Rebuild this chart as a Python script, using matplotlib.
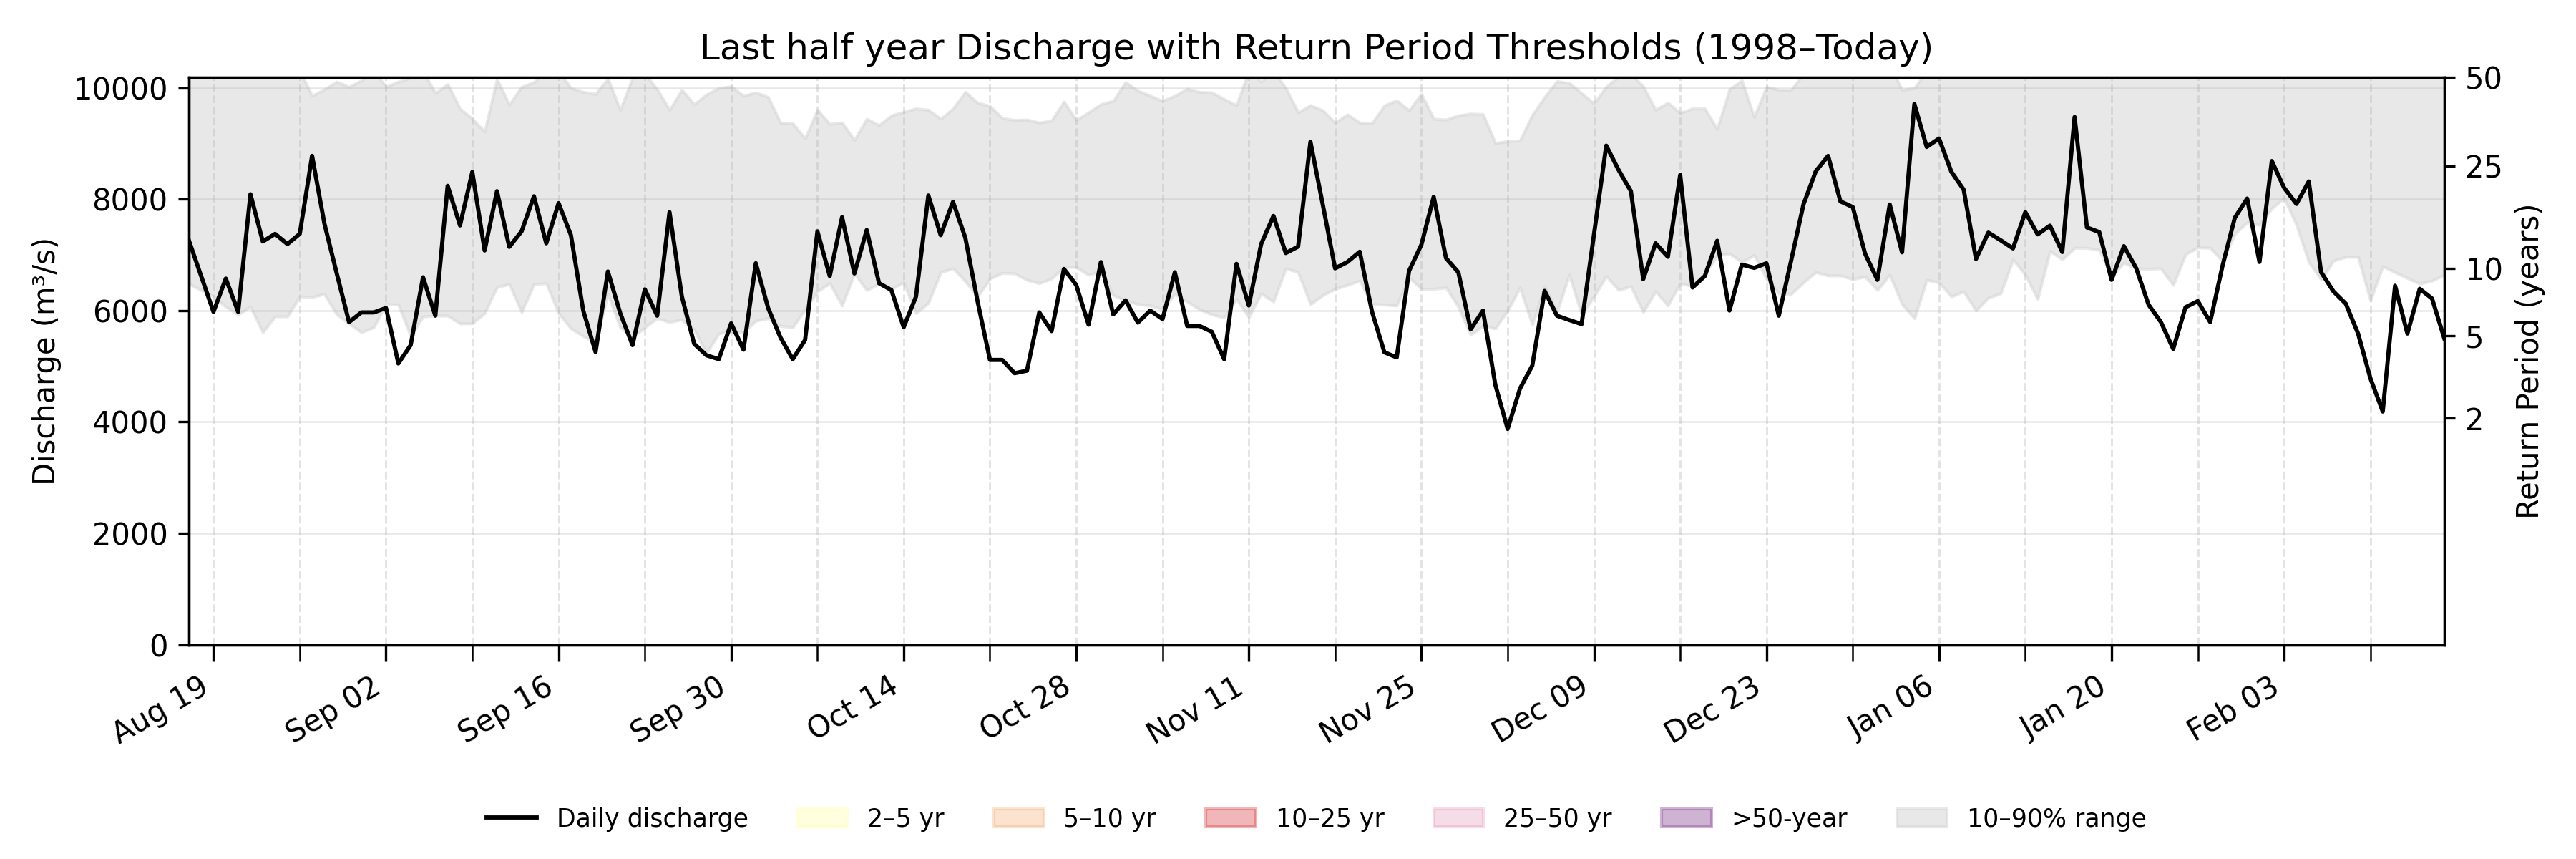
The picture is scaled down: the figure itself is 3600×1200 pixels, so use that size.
import matplotlib
matplotlib.use("Agg")
import matplotlib.pyplot as plt
import matplotlib.dates as mdates
from matplotlib.patches import Patch
import pandas as pd

# daily values, 2024-08-17 .. 2025-02-16
dates = pd.date_range("2024-08-17", "2025-02-16", freq="D")

discharge = [
    7262, 6620, 5976, 6573, 5976, 8088, 7239, 7376, 7193, 7376,
    8777, 7560, 6667, 5792, 5966, 5966, 6045, 5049, 5379, 6596,
    5907, 8239, 7528, 8488, 7078, 8143, 7142, 7422, 8051, 7207,
    7927, 7353, 5999, 5255, 6701, 5953, 5379, 6380, 5907, 7766,
    6252, 5402, 5195, 5126, 5769, 5296, 6849, 6045, 5517, 5126,
    5471, 7422, 6619, 7675, 6665, 7445, 6490, 6367, 5700, 6252,
    8065, 7353, 7950, 7307, 6160, 5113, 5113, 4874, 4920, 5966,
    5631, 6746, 6458, 5746, 6870, 5930, 6183, 5783, 5999, 5847,
    6687, 5723, 5723, 5618, 5126, 6838, 6091, 7193, 7698, 7032,
    7147, 9029, 7904, 6757, 6871, 7055, 5976, 5250, 5158, 6711,
    7180, 8042, 6940, 6687, 5663, 5999, 4667, 3873, 4598, 5011,
    6352, 5907, 5829, 5756, 7353, 8960, 8524, 8143, 6564, 7207,
    6964, 8433, 6413, 6619, 7252, 6000, 6825, 6766, 6848, 5907,
    6894, 7904, 8501, 8776, 7959, 7858, 7022, 6550, 7904, 7045,
    9708, 8937, 9088, 8491, 8170, 6926, 7399, 7262, 7115, 7766,
    7367, 7523, 7050, 9474, 7491, 7408, 6550, 7156, 6757, 6105,
    5793, 5311, 6059, 6169, 5793, 6803, 7666, 8010, 6871, 8684,
    8203, 7913, 8317, 6688, 6343, 6123, 5586, 4782, 4186, 6445,
    5586, 6389, 6215, 5494,
]

# 10th percentile of historic discharge for the same day of year
p10 = [
    6481, 6367, 6252, 6068, 5930, 6068, 5609, 5894, 5894, 6252,
    6243, 6298, 5930, 5769, 5609, 5700, 6114, 6105, 5540, 5894,
    5907, 5907, 5769, 5769, 5953, 6421, 6472, 5976, 6472, 6490,
    5953, 5678, 5540, 5425, 6298, 5700, 5517, 5700, 5861, 5792,
    5838, 5655, 5241, 5586, 5632, 5609, 5815, 5861, 5723, 5700,
    6022, 6343, 6490, 6091, 6665, 6367, 6481, 6389, 6504, 5953,
    6137, 6688, 6757, 6526, 6252, 6573, 6674, 6665, 6550, 6490,
    6573, 6780, 6780, 6642, 6711, 6275, 6183, 6114, 6091, 6022,
    6298, 6160, 6022, 5930, 5875, 6206, 5884, 6307, 6160, 6757,
    6688, 6114, 6275, 6389, 6458, 6536, 6114, 6105, 6091, 6596,
    6389, 6389, 6412, 6068, 5563, 5723, 5678, 6000, 6412, 5746,
    6435, 5976, 6642, 5930, 6252, 6619, 6367, 6435, 5976, 6343,
    6091, 6490, 6435, 6665, 6986, 7023, 6871, 6995, 6573, 6307,
    6298, 6504, 6688, 6628, 6628, 6563, 6609, 6367, 6642, 6114,
    5861, 6550, 6504, 6252, 6343, 6000, 6229, 6307, 6917, 6642,
    6206, 7068, 6917, 7124, 7124, 7087, 6620, 6858, 6757, 6748,
    6757, 6459, 7009, 7133, 7124, 6894, 7376, 7583, 7537, 7835,
    8019, 7537, 6871, 6550, 6894, 6963, 6963, 6183, 6794, 6688,
    6582, 6481, 6536, 6642,
]

# 90th percentile
p90 = [
    10400, 10400, 10400, 10400, 10400, 10400, 10400, 10400, 10400, 10300,
    9855, 9970, 10108, 10016, 10131, 10300, 10016, 10108, 10180, 10300,
    9901, 10062, 9626, 9442, 9213, 10154, 9695, 10016, 10099, 10300,
    10300, 9993, 9924, 9888, 10163, 9603, 10177, 10250, 9970, 9603,
    9961, 9704, 9878, 9993, 10025, 9855, 9915, 9832, 9373, 9359,
    9089, 9603, 9350, 9373, 9061, 9442, 9327, 9502, 9566, 9626,
    9603, 9442, 9626, 9924, 9731, 9672, 9456, 9419, 9428, 9373,
    9410, 9750, 9419, 9557, 9704, 9764, 10099, 9947, 9855, 9764,
    9855, 9979, 9924, 9915, 9796, 9686, 10300, 10108, 10300, 9993,
    9557, 9686, 9594, 9373, 9520, 9373, 9364, 9681, 9773, 9594,
    9888, 9442, 9428, 9502, 9534, 9525, 9006, 9038, 9052, 9511,
    9832, 10117, 10085, 9901, 9718, 10016, 10200, 10250, 10025, 9603,
    9731, 9548, 9626, 9626, 9259, 9970, 10131, 9474, 10016, 9961,
    9961, 10250, 10400, 10400, 10400, 10400, 10400, 10400, 10400, 9961,
    9993, 10300, 10400, 10400, 10400, 10400, 10400, 10400, 10400, 10400,
    10400, 10400, 10400, 10400, 10400, 10400, 10400, 10400, 10400, 10400,
    10400, 10400, 10400, 10400, 10400, 10400, 10400, 10400, 10400, 10400,
    10400, 10400, 10400, 10400, 10400, 10400, 10400, 10400, 10400, 10400,
    10400, 10400, 10400, 10400,
]

# return period thresholds (m3/s)
rp_years = [2, 5, 10, 25, 50]
rp_values = [4064, 5550, 6756, 8590, 10184]

band_labels = ["2–5 yr", "5–10 yr", "10–25 yr", "25–50 yr", ">50-year"]
band_colors = ["#ffff99", "#f4a460", "#d62728", "#e48eb2", "#894393"]
band_alpha = [0.3, 0.3, 0.33, 0.3, 0.4]

major_ticks = pd.date_range("2024-08-19", "2025-02-16", freq="14D")
minor_ticks = pd.date_range("2024-08-26", "2025-02-16", freq="14D")

fig, ax = plt.subplots(figsize=(12, 4), dpi=300)
fig.subplots_adjust(left=0.0733, right=0.9489, top=0.9098, bottom=0.2495)

rng = ax.fill_between(dates, p10, p90, color="lightgray", alpha=0.5,
                      label="10–90% range")
line, = ax.plot(dates, discharge, color="black", lw=1.4, label="Daily discharge")

ax.set_xlim(dates[0], dates[-1])
ax.set_ylim(0, rp_values[-1])
ax.set_yticks(range(0, 10001, 2000))
ax.set_ylabel("Discharge (m³/s)")
ax.set_title("Last half year Discharge with Return Period Thresholds (1998–Today)")

ax.set_xticks(major_ticks)
ax.set_xticks(minor_ticks, minor=True)
ax.xaxis.set_major_formatter(mdates.DateFormatter("%b %d"))
ax.tick_params(axis="x", which="both", length=5.5)
plt.setp(ax.get_xticklabels(), rotation=30, ha="right")

ax.grid(axis="y", color="#b0b0b0", alpha=0.3, lw=0.6)
ax.grid(axis="x", which="both", color="#b0b0b0", alpha=0.35, lw=0.7, ls="--")

# right axis with return periods
ax2 = ax.twinx()
ax2.set_ylim(ax.get_ylim())
ax2.set_yticks(rp_values)
ax2.set_yticklabels([str(y) for y in rp_years])
ax2.set_ylabel("Return Period (years)")

handles = [line]
for lab, col, a in zip(band_labels, band_colors, band_alpha):
    handles.append(Patch(color=col, alpha=a, label=lab))
handles.append(rng)
ax.legend(handles=handles, loc="center", bbox_to_anchor=(0.5, -0.308),
          ncol=7, frameon=False, fontsize="small")

fig.savefig("out.png", dpi=300)
